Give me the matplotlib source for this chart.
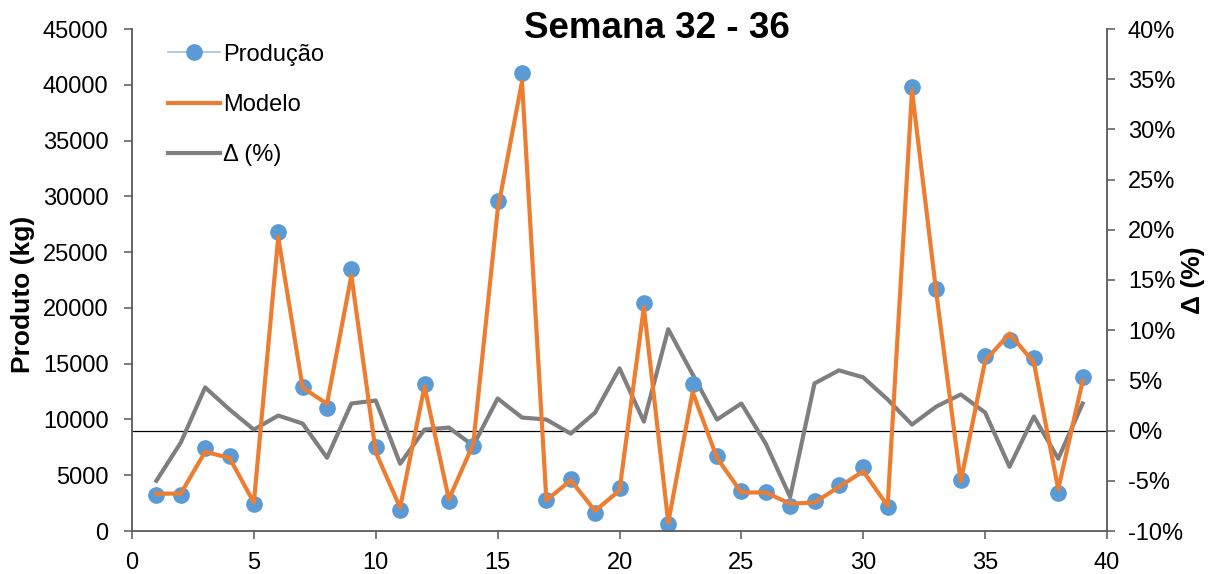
import matplotlib
matplotlib.use("Agg")
import matplotlib.pyplot as plt
from matplotlib.lines import Line2D
from matplotlib.ticker import FuncFormatter

plt.rcParams["font.family"] = ["Liberation Sans", "DejaVu Sans"]

# ---------------------------------------------------------------------------
# Data
# ---------------------------------------------------------------------------

dias = list(range(1, 40))

producao = [3200, 3250, 7400, 6700, 2450, 26800, 12900, 11000, 23500, 7500,
            1900, 13150, 2700, 7650, 29550, 41050, 2750, 4650, 1650, 3850,
            20450, 650, 13150, 6700, 3550, 3500, 2250, 2700, 4150, 5700,
            2150, 39800, 21650, 4600, 15650, 17150, 15500, 3400, 13800]

modelo = [3350, 3350, 7100, 6550, 2550, 26350, 12850, 11400, 22900, 7050,
          2100, 12950, 2850, 7800, 28750, 40300, 2750, 4550, 1800, 3650,
          20050, 750, 12450, 6550, 3450, 3450, 2450, 2550, 3950, 5350,
          2250, 39500, 21300, 4450, 15250, 17700, 15100, 3750, 13450]

delta = [-5.0, -1.2, 4.3, 2.1, 0.1, 1.5, 0.7, -2.7, 2.7, 3.0,
         -3.3, 0.1, 0.3, -1.5, 3.2, 1.3, 1.1, -0.3, 1.8, 6.2,
         0.9, 10.1, 5.6, 1.1, 2.7, -1.3, -6.6, 4.7, 6.0, 5.3,
         3.1, 0.6, 2.4, 3.6, 1.8, -3.6, 1.4, -2.8, 2.7]

# ---------------------------------------------------------------------------
# Colours
# ---------------------------------------------------------------------------

BLUE   = "#5B9BD5"
ORANGE = "#ED7D31"
GREY   = "#7F7F7F"
AXIS   = "#595959"

# ---------------------------------------------------------------------------
# Plot
# ---------------------------------------------------------------------------

W, H = 1212, 574
fig = plt.figure(figsize=(W / 100, H / 100), dpi=100)
ax = fig.add_axes([132 / W, 1 - 531 / H, (1107 - 132) / W, (531 - 29) / H])
ax2 = ax.twinx()

# primary axis drawn above the secondary one (orange over grey)
ax.set_zorder(2)
ax2.set_zorder(1)
ax.patch.set_visible(False)

ax.plot(dias, producao, linestyle="none", marker="o", markersize=11,
        color=BLUE, zorder=2)
ax.plot(dias, modelo, color=ORANGE, linewidth=3.0, zorder=3)

ax2.axhline(0, color="black", linewidth=0.9, zorder=1)
ax2.plot(dias, delta, color=GREY, linewidth=3.0, zorder=2)

# axes
ax.set_xlim(0, 40)
ax.set_ylim(0, 45000)
ax2.set_ylim(-10, 40)
ax.set_xticks(range(0, 41, 5))
ax.set_yticks(range(0, 45001, 5000))
ax2.set_yticks(range(-10, 41, 5))
ax2.yaxis.set_major_formatter(FuncFormatter(lambda v, _: f"{v:.0f}%"))

for a in (ax, ax2):
    a.spines["top"].set_visible(False)
    for s in ("left", "right", "bottom"):
        a.spines[s].set_color(AXIS)
        a.spines[s].set_linewidth(1.3)
    a.tick_params(colors=AXIS, labelcolor="black", labelsize=17,
                  length=6, width=1.1, direction="out", pad=11)
ax.spines["right"].set_visible(False)
ax2.spines["left"].set_visible(False)
ax2.spines["bottom"].set_visible(False)
ax.tick_params(axis="x", pad=9)
ax2.tick_params(axis="y", pad=9)

# axis titles
fig.text(23 / W, 1 - 294 / H, "Produto (kg)", fontsize=19, fontweight="bold",
         rotation=90, ha="center", va="center")
fig.text(1193 / W, 1 - 280 / H, "Δ (%)", fontsize=19, fontweight="bold",
         rotation=90, ha="center", va="center")

fig.text(657 / W, 1 - 28 / H, "Semana 32 - 36", fontsize=26.5,
         fontweight="bold", ha="center", va="center")

# legend
handles = [
    Line2D([0], [0], color="#9DC3E6", linewidth=1.2, marker="o",
           markersize=11, markerfacecolor=BLUE, markeredgecolor=BLUE),
    Line2D([0], [0], color=ORANGE, linewidth=3.0),
    Line2D([0], [0], color=GREY, linewidth=3.0),
]
ax.legend(handles, ["Produção", "Modelo", "Δ (%)"], loc="upper left",
          bbox_to_anchor=(0.015, 1.013), frameon=False, fontsize=17,
          handlelength=2.2, handletextpad=0.15, labelspacing=1.2)

fig.savefig("out.png", dpi=100)
